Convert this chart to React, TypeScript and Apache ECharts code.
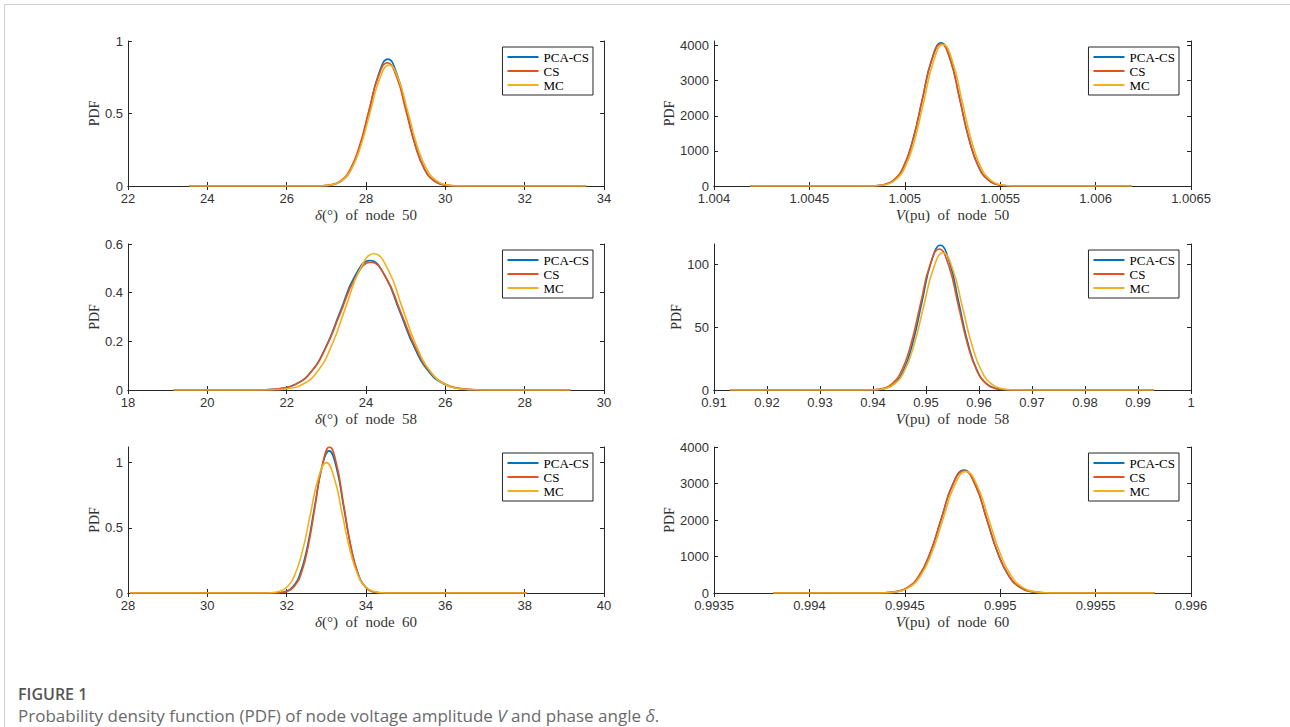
import React, { useEffect, useRef } from 'react';
import * as echarts from 'echarts';

const seriesNames = ['PCA-CS', 'CS', 'MC'];
const colors = ['#0072BD', '#E4521B', '#F2B01E'];

// Axis ranges: [min, max, interval]
const xDelta50 = [22, 34, 2];
const yDelta50 = [0, 1, 0.5];
const xV50 = [1.004, 1.0065, 0.0005];
const yV50 = [0, 4130, 1000];
const xDelta58 = [18, 30, 2];
const yDelta58 = [0, 0.6, 0.2];
const xV58 = [0.91, 1, 0.01];
const yV58 = [0, 116, 50];
const xDelta60 = [28, 40, 2];
const yDelta60 = [0, 1.12, 0.5];
const xV60 = [0.9935, 0.996, 0.0005];
const yV60 = [0, 4000, 1000];

// delta of node 50
const delta50PCA: [number, number][] = [[23.55,0],[26.71,0.0003],[26.94,0.0019],[27.17,0.0097],[27.40,0.0384],[27.63,0.1184],[27.86,0.2841],[28.09,0.5307],[28.32,0.7722],[28.55,0.875],[28.78,0.7722],[29.01,0.5307],[29.24,0.2841],[29.47,0.1184],[29.70,0.0384],[29.93,0.0097],[30.16,0.0019],[30.39,0.0003],[33.55,0]];
const delta50CS: [number, number][] = [[23.55,0],[26.66,0.0003],[26.895,0.0019],[27.13,0.0094],[27.365,0.0373],[27.60,0.1150],[27.835,0.2760],[28.07,0.5155],[28.305,0.7501],[28.54,0.85],[28.775,0.7501],[29.01,0.5155],[29.245,0.2760],[29.48,0.1150],[29.715,0.0373],[29.95,0.0094],[30.185,0.0019],[30.42,0.0003],[33.55,0]];
const delta50MC: [number, number][] = [[23.55,0],[26.668,0.0003],[26.907,0.0018],[27.146,0.0093],[27.385,0.0367],[27.624,0.1130],[27.863,0.2711],[28.102,0.5064],[28.341,0.7369],[28.58,0.835],[28.819,0.7369],[29.058,0.5064],[29.297,0.2711],[29.536,0.1130],[29.775,0.0367],[30.014,0.0093],[30.253,0.0018],[30.492,0.0003],[33.55,0]];

// V of node 50
const v50PCA: [number, number][] = [[1.00419,0],[1.004798,1.2],[1.004847,9.0],[1.004896,45.3],[1.004945,179.1],[1.004994,552.0],[1.005043,1324.8],[1.005092,2474.5],[1.005141,3600.6],[1.00519,4080],[1.005239,3600.6],[1.005288,2474.5],[1.005337,1324.8],[1.005386,552.0],[1.005435,179.1],[1.005484,45.3],[1.005533,9.0],[1.005582,1.2],[1.00619,0]];
const v50CS: [number, number][] = [[1.00419,0],[1.004796,1.2],[1.0048453,8.9],[1.0048945,45.0],[1.0049438,177.8],[1.004993,548.0],[1.0050423,1315.0],[1.0050915,2456.3],[1.0051408,3574.1],[1.00519,4050],[1.0052393,3574.1],[1.0052885,2456.3],[1.0053378,1315.0],[1.005387,548.0],[1.0054363,177.8],[1.0054855,45.0],[1.0055348,8.9],[1.005584,1.2],[1.00619,0]];
const v50MC: [number, number][] = [[1.00419,0],[1.004804,1.2],[1.0048535,8.9],[1.004903,44.7],[1.0049525,176.9],[1.005002,545.3],[1.0050515,1308.5],[1.005101,2444.2],[1.0051505,3556.5],[1.0052,4030],[1.0052495,3556.5],[1.005299,2444.2],[1.0053485,1308.5],[1.005398,545.3],[1.0054475,176.9],[1.005497,44.7],[1.0055465,8.9],[1.005596,1.2],[1.00619,0]];

// delta of node 58
const delta58PCA: [number, number][] = [[19.15,0],[21.1,0.0002],[21.475,0.0012],[21.85,0.0059],[22.225,0.0234],[22.6,0.0720],[22.975,0.1727],[23.35,0.3227],[23.725,0.4695],[24.1,0.532],[24.475,0.4695],[24.85,0.3227],[25.225,0.1727],[25.6,0.0720],[25.975,0.0234],[26.35,0.0059],[26.725,0.0012],[27.1,0.0002],[29.15,0]];
const delta58CS: [number, number][] = [[19.15,0],[21.08,0.0002],[21.46,0.0012],[21.84,0.0058],[22.22,0.0230],[22.6,0.0710],[22.98,0.1705],[23.36,0.3184],[23.74,0.4633],[24.12,0.525],[24.5,0.4633],[24.88,0.3184],[25.26,0.1705],[25.64,0.0710],[26.02,0.0230],[26.4,0.0058],[26.78,0.0012],[27.16,0.0002],[29.15,0]];
const delta58MC: [number, number][] = [[19.15,0],[21.352,0.0002],[21.708,0.0012],[22.064,0.0062],[22.42,0.0246],[22.776,0.0758],[23.132,0.1818],[23.488,0.3396],[23.844,0.4942],[24.2,0.56],[24.556,0.4942],[24.912,0.3396],[25.268,0.1818],[25.624,0.0758],[25.98,0.0246],[26.336,0.0062],[26.692,0.0012],[27.048,0.0002],[29.15,0]];

// V of node 58
const v58PCA: [number, number][] = [[0.913,0],[0.93882,0.03],[0.940555,0.25],[0.94229,1.28],[0.944025,5.05],[0.94576,15.56],[0.947495,37.34],[0.94923,69.75],[0.950965,101.49],[0.9527,115],[0.954435,101.49],[0.95617,69.75],[0.957905,37.34],[0.95964,15.56],[0.961375,5.05],[0.96311,1.28],[0.964845,0.25],[0.96658,0.03],[0.993,0]];
const v58CS: [number, number][] = [[0.913,0],[0.93826,0.03],[0.94004,0.25],[0.94182,1.24],[0.9436,4.92],[0.94538,15.15],[0.94716,36.37],[0.94894,67.93],[0.95072,98.84],[0.9525,112],[0.95428,98.84],[0.95606,67.93],[0.95784,36.37],[0.95962,15.15],[0.9614,4.92],[0.96318,1.24],[0.96496,0.25],[0.96674,0.03],[0.993,0]];
const v58MC: [number, number][] = [[0.913,0],[0.93856,0.03],[0.94039,0.24],[0.94222,1.21],[0.94405,4.79],[0.94588,14.75],[0.94771,35.39],[0.94954,66.11],[0.95137,96.19],[0.9532,109],[0.95503,96.19],[0.95686,66.11],[0.95869,35.39],[0.96052,14.75],[0.96235,4.79],[0.96418,1.21],[0.96601,0.24],[0.96784,0.03],[0.993,0]];

// delta of node 60
const delta60PCA: [number, number][] = [[28.05,0],[31.606,0.0003],[31.789,0.0024],[31.972,0.0121],[32.155,0.0479],[32.338,0.1475],[32.521,0.3539],[32.704,0.6611],[32.887,0.9619],[33.07,1.09],[33.253,0.9619],[33.436,0.6611],[33.619,0.3539],[33.802,0.1475],[33.985,0.0479],[34.168,0.0121],[34.351,0.0024],[34.534,0.0003],[38.05,0]];
const delta60CS: [number, number][] = [[28.05,0],[31.656,0.0003],[31.834,0.0025],[32.012,0.0124],[32.19,0.0492],[32.368,0.1515],[32.546,0.3637],[32.724,0.6793],[32.902,0.9884],[33.08,1.12],[33.258,0.9884],[33.436,0.6793],[33.614,0.3637],[33.792,0.1515],[33.97,0.0492],[34.148,0.0124],[34.326,0.0025],[34.504,0.0003],[38.05,0]];
const delta60MC: [number, number][] = [[28.05,0],[31.4,0.0003],[31.6,0.0022],[31.8,0.0111],[32.0,0.0439],[32.2,0.1353],[32.4,0.3247],[32.6,0.6065],[32.8,0.8825],[33.0,1.0],[33.2,0.8825],[33.4,0.6065],[33.6,0.3247],[33.8,0.1353],[34.0,0.0439],[34.2,0.0111],[34.4,0.0022],[34.6,0.0003],[38.05,0]];

// V of node 60
const v60PCA: [number, number][] = [[0.99381,0],[0.994338,1.0],[0.994397,7.4],[0.994456,37.4],[0.994515,147.9],[0.994574,456.0],[0.994633,1094.2],[0.994692,2043.9],[0.994751,2974.0],[0.99481,3370],[0.994869,2974.0],[0.994928,2043.9],[0.994987,1094.2],[0.995046,456.0],[0.995105,147.9],[0.995164,37.4],[0.995223,7.4],[0.995282,1.0],[0.99581,0]];
const v60CS: [number, number][] = [[0.99381,0],[0.994334,1.0],[0.9943935,7.4],[0.994453,37.2],[0.9945125,147.1],[0.994572,453.3],[0.9946315,1087.7],[0.994691,2031.8],[0.9947505,2956.4],[0.99481,3350],[0.9948695,2956.4],[0.994929,2031.8],[0.9949885,1087.7],[0.995048,453.3],[0.9951075,147.1],[0.995167,37.2],[0.9952265,7.4],[0.995286,1.0],[0.99581,0]];
const v60MC: [number, number][] = [[0.99381,0],[0.99434,1.0],[0.9944,7.3],[0.99446,37.0],[0.99452,146.2],[0.99458,450.5],[0.99464,1081.3],[0.9947,2019.6],[0.99476,2938.7],[0.99482,3330],[0.99488,2938.7],[0.99494,2019.6],[0.995,1081.3],[0.99506,450.5],[0.99512,146.2],[0.99518,37.0],[0.99524,7.3],[0.9953,1.0],[0.99581,0]];

const xTitles = [
  '{i|δ}(°)  of  node  50', '{i|V}(pu)  of  node  50',
  '{i|δ}(°)  of  node  58', '{i|V}(pu)  of  node  58',
  '{i|δ}(°)  of  node  60', '{i|V}(pu)  of  node  60',
];

const AXIS = '#262626';
const SERIF = '"Liberation Serif", "Times New Roman", serif';
const SANS = '"Liberation Sans", Arial, Helvetica, sans-serif';

export default function App() {
  const ref = useRef<HTMLDivElement>(null);
  useEffect(() => {
    document.body.style.margin = '0';
    const chart = echarts.init(ref.current!, null, { renderer: 'svg' });

    const panels = [
      { grid: { left: 128, top: 41, width: 476, height: 145 }, x: xDelta50, y: yDelta50, showMaxY: true, yGap: 26, data: [delta50PCA, delta50CS, delta50MC] },
      { grid: { left: 714, top: 41, width: 477, height: 145 }, x: xV50, y: yV50, showMaxY: false, yGap: 36, data: [v50PCA, v50CS, v50MC] },
      { grid: { left: 128, top: 244, width: 476, height: 146 }, x: xDelta58, y: yDelta58, showMaxY: true, yGap: 26, data: [delta58PCA, delta58CS, delta58MC] },
      { grid: { left: 714, top: 244, width: 477, height: 146 }, x: xV58, y: yV58, showMaxY: false, yGap: 30, data: [v58PCA, v58CS, v58MC] },
      { grid: { left: 128, top: 447, width: 476, height: 146 }, x: xDelta60, y: yDelta60, showMaxY: false, yGap: 26, data: [delta60PCA, delta60CS, delta60MC] },
      { grid: { left: 714, top: 447, width: 477, height: 146 }, x: xV60, y: yV60, showMaxY: true, yGap: 36, data: [v60PCA, v60CS, v60MC] },
    ];

    const fmt = (v: number) => String(parseFloat(Number(v).toFixed(6)));
    const lineStyle = { color: AXIS, width: 1 };

    const grids = panels.map((p) => ({ ...p.grid, containLabel: false }));
    const xAxes: any[] = [];
    const yAxes: any[] = [];
    panels.forEach((p, i) => {
      xAxes.push({
        type: 'value', gridIndex: i, position: 'bottom',
        min: p.x[0], max: p.x[1], interval: p.x[2],
        axisLine: { show: true, lineStyle }, axisTick: { show: true, inside: true, length: 4, lineStyle },
        axisLabel: { color: '#333', fontFamily: SANS, fontSize: 13, margin: 6, formatter: fmt },
        splitLine: { show: false },
        name: xTitles[i], nameLocation: 'middle', nameGap: 21,
        nameTextStyle: { fontFamily: SERIF, fontSize: 15, color: '#333', rich: { i: { fontFamily: SERIF, fontSize: 15, fontStyle: 'italic', color: '#333' } } },
      });
      yAxes.push({
        type: 'value', gridIndex: i, position: 'left',
        min: p.y[0], max: p.y[1], interval: p.y[2],
        axisLine: { show: true, lineStyle }, axisTick: { show: true, inside: true, length: 4, lineStyle },
        axisLabel: { color: '#333', fontFamily: SANS, fontSize: 13, margin: 5, formatter: fmt, showMaxLabel: p.showMaxY },
        splitLine: { show: false },
        name: 'PDF', nameLocation: 'middle', nameGap: p.yGap, nameRotate: 90,
        nameTextStyle: { fontFamily: SERIF, fontSize: 14, color: '#333' },
      });
    });
    panels.forEach((p, i) => {
      xAxes.push({
        type: 'value', gridIndex: i, position: 'top',
        min: p.x[0], max: p.x[1], interval: p.x[2],
        axisLine: { show: true, lineStyle }, axisTick: { show: true, inside: true, length: 4, lineStyle },
        axisLabel: { show: false }, splitLine: { show: false },
      });
      yAxes.push({
        type: 'value', gridIndex: i, position: 'right',
        min: p.y[0], max: p.y[1], interval: p.y[2],
        axisLine: { show: true, lineStyle }, axisTick: { show: true, inside: true, length: 4, lineStyle },
        axisLabel: { show: false }, splitLine: { show: false },
      });
    });

    const series: any[] = [];
    panels.forEach((p, i) => {
      p.data.forEach((d, k) => {
        series.push({
          type: 'line', name: seriesNames[k], xAxisIndex: i, yAxisIndex: i,
          data: d, showSymbol: false, symbol: 'none', smooth: true,
          lineStyle: { color: colors[k], width: 1.6 }, itemStyle: { color: colors[k] },
          z: 3 + k,
        });
      });
    });

    const legends = panels.map((p, i) => ({
      data: seriesNames, orient: 'vertical', selectedMode: false,
      right: i % 2 === 0 ? 697 : 111, top: p.grid.top + 6,
      backgroundColor: '#fff', borderColor: AXIS, borderWidth: 1,
      padding: [3, 4, 3, 5], itemGap: 0, itemWidth: 31, itemHeight: 2, icon: 'rect',
      textStyle: { fontFamily: SERIF, fontSize: 13, color: '#000', lineHeight: 14 },
    }));

    const option: any = {
      animation: false,
      backgroundColor: '#fff',
      grid: grids,
      xAxis: xAxes,
      yAxis: yAxes,
      legend: legends,
      series,
      graphic: [
        { type: 'line', shape: { x1: 4.5, y1: 4.5, x2: 1290, y2: 4.5 }, style: { stroke: '#cfcfcf', lineWidth: 1 } },
        { type: 'line', shape: { x1: 4.5, y1: 4.5, x2: 4.5, y2: 727 }, style: { stroke: '#cfcfcf', lineWidth: 1 } },
        { type: 'text', left: 18, top: 686, style: { text: 'FIGURE 1', font: '600 16px "Open Sans", sans-serif', fill: '#555' } },
        {
          type: 'text', left: 18, top: 706,
          style: {
            text: 'Probability density function (PDF) of node voltage amplitude {i|V} and phase angle {i|δ}.',
            font: '17px "Open Sans", sans-serif', fill: '#6a6a6a', lineHeight: 18,
            rich: { i: { fontStyle: 'italic', fontFamily: '"Open Sans", sans-serif', fontSize: 17, fill: '#6a6a6a', lineHeight: 18 } },
          },
        },
      ],
    };
    chart.setOption(option);
    return () => chart.dispose();
  }, []);
  return <div ref={ref} style={{ width: 1290, height: 727, background: '#fff' }} />;
}
